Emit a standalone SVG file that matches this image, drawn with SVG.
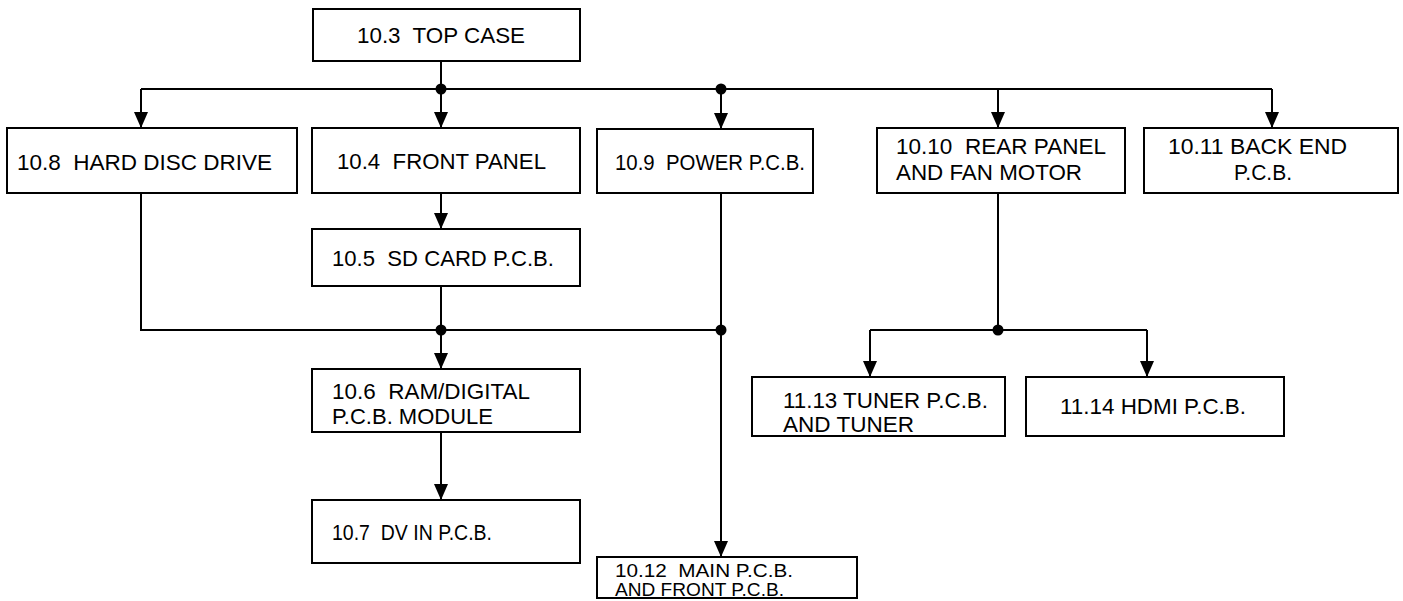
<svg xmlns="http://www.w3.org/2000/svg" width="1403" height="601" viewBox="0 0 1403 601">
<defs>
<marker id="ah" markerWidth="16" markerHeight="14" refX="16" refY="7" orient="auto" markerUnits="userSpaceOnUse" viewBox="0 0 16 14"><path d="M0,0 L16,7 L0,14 Z" fill="#000"/></marker>
</defs>
<style>
rect{fill:#fff;stroke:#000;stroke-width:2}
text{font-family:"Liberation Sans",Arial,sans-serif;font-size:22px;fill:#000;white-space:pre}
#connectors path{fill:none;stroke:#000;stroke-width:2}
#connectors circle{fill:#000}
</style>
<rect x="0" y="0" width="1403" height="601" style="stroke:none"/>
<g id="connectors">
<path d="M441,61 V89"/>
<path d="M141,89 H1272"/>
<path d="M141,89 V128" marker-end="url(#ah)"/>
<path d="M441,89 V128" marker-end="url(#ah)"/>
<path d="M721,89 V129" marker-end="url(#ah)"/>
<path d="M998,89 V128" marker-end="url(#ah)"/>
<path d="M1272,89 V128" marker-end="url(#ah)"/>
<path d="M441,193 V229" marker-end="url(#ah)"/>
<path d="M141,193 V330 H721"/>
<path d="M441,286 V369" marker-end="url(#ah)"/>
<path d="M441,432 V500" marker-end="url(#ah)"/>
<path d="M721,193 V557" marker-end="url(#ah)"/>
<path d="M998,193 V330"/>
<path d="M870,330 H1147"/>
<path d="M870,330 V377" marker-end="url(#ah)"/>
<path d="M1147,330 V377" marker-end="url(#ah)"/>
<circle cx="441" cy="89" r="5.5"/>
<circle cx="721" cy="89" r="5.5"/>
<circle cx="441" cy="330" r="5.5"/>
<circle cx="721" cy="330" r="5.5"/>
<circle cx="998" cy="330" r="5.5"/>
</g>
<g id="n103"><rect x="313" y="9" width="267" height="52"/><text x="357" y="43" textLength="168" lengthAdjust="spacingAndGlyphs">10.3  TOP CASE</text></g>
<g id="n108"><rect x="7" y="128" width="290" height="65"/><text x="17" y="170" textLength="255" lengthAdjust="spacingAndGlyphs">10.8  HARD DISC DRIVE</text></g>
<g id="n104"><rect x="312" y="128" width="268" height="65"/><text x="337" y="169" textLength="209" lengthAdjust="spacingAndGlyphs">10.4  FRONT PANEL</text></g>
<g id="n109"><rect x="597" y="129" width="216" height="64"/><text x="615" y="170" textLength="190" lengthAdjust="spacingAndGlyphs">10.9  POWER P.C.B.</text></g>
<g id="n1010"><rect x="877" y="128" width="248" height="65"/><text x="896" y="154" textLength="210" lengthAdjust="spacingAndGlyphs">10.10  REAR PANEL</text><text x="896" y="180" textLength="186" lengthAdjust="spacingAndGlyphs">AND FAN MOTOR</text></g>
<g id="n1011"><rect x="1144" y="128" width="254" height="65"/><text x="1168" y="154" textLength="179" lengthAdjust="spacingAndGlyphs">10.11 BACK END</text><text x="1234" y="180" textLength="58" lengthAdjust="spacingAndGlyphs">P.C.B.</text></g>
<g id="n105"><rect x="312" y="229" width="268" height="57"/><text x="332" y="266" textLength="222" lengthAdjust="spacingAndGlyphs">10.5  SD CARD P.C.B.</text></g>
<g id="n106"><rect x="312" y="369" width="268" height="63"/><text x="332" y="399" textLength="198" lengthAdjust="spacingAndGlyphs">10.6  RAM/DIGITAL</text><text x="332" y="424" textLength="161" lengthAdjust="spacingAndGlyphs">P.C.B. MODULE</text></g>
<g id="n107"><rect x="312" y="500" width="268" height="63"/><text x="332" y="540" textLength="160" lengthAdjust="spacingAndGlyphs">10.7  DV IN P.C.B.</text></g>
<g id="n1012"><rect x="597" y="557" width="260" height="41"/><text x="615" y="577" style="font-size:19px" textLength="178" lengthAdjust="spacingAndGlyphs">10.12  MAIN P.C.B.</text><text x="615" y="596" style="font-size:19px" textLength="169" lengthAdjust="spacingAndGlyphs">AND FRONT P.C.B.</text></g>
<g id="n1113"><rect x="752" y="377" width="253" height="59"/><text x="783" y="408" textLength="205" lengthAdjust="spacingAndGlyphs">11.13 TUNER P.C.B.</text><text x="783" y="432" textLength="131" lengthAdjust="spacingAndGlyphs">AND TUNER</text></g>
<g id="n1114"><rect x="1026" y="377" width="258" height="59"/><text x="1060" y="414" textLength="186" lengthAdjust="spacingAndGlyphs">11.14 HDMI P.C.B.</text></g>
</svg>
